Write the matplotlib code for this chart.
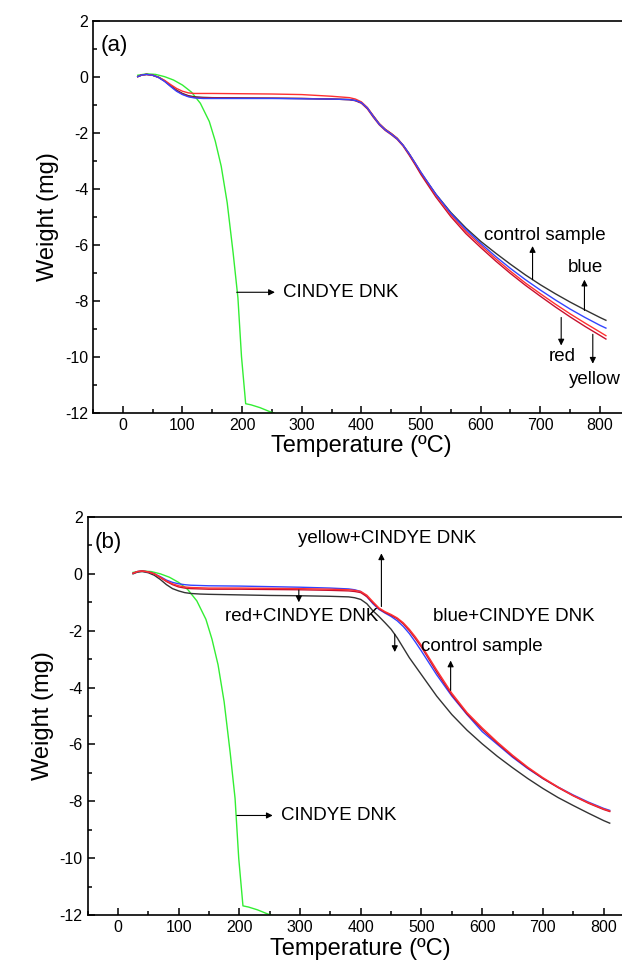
import matplotlib
matplotlib.use("Agg")
import matplotlib.pyplot as plt
from matplotlib.ticker import MultipleLocator

plt.rcParams['font.family'] = ['Liberation Sans', 'DejaVu Sans']
plt.rcParams['axes.unicode_minus'] = False

# temperature grid (deg C) shared by the sample curves
temp = [25, 32, 40, 50, 60, 70, 80, 90, 100, 110, 120, 135, 150, 200, 250, 300, 350, 380,
        390, 400, 410, 420, 430, 440, 450, 460, 470, 480, 490, 500, 525, 550, 575, 600,
        625, 650, 675, 700, 725, 750, 775, 800, 810]

# panel (a) weights (mg)
ctrl_a = [0.0, 0.06, 0.08, 0.05, -0.02, -0.15, -0.32, -0.48, -0.6, -0.68, -0.72, -0.74, -0.75,
          -0.76, -0.77, -0.78, -0.8, -0.82, -0.85, -0.93, -1.12, -1.4, -1.68, -1.88, -2.03, -2.2,
          -2.45, -2.75, -3.1, -3.45, -4.2, -4.85, -5.4, -5.88, -6.3, -6.7, -7.08, -7.43, -7.75,
          -8.05, -8.33, -8.6, -8.7]
blue_a = [0.0, 0.06, 0.08, 0.05, -0.03, -0.17, -0.35, -0.52, -0.64, -0.72, -0.76, -0.78, -0.78,
          -0.78, -0.78, -0.79, -0.8, -0.82, -0.85, -0.93, -1.12, -1.42, -1.7, -1.9, -2.05, -2.22,
          -2.45, -2.75, -3.08, -3.42, -4.2, -4.88, -5.45, -5.95, -6.42, -6.85, -7.25, -7.62, -7.97,
          -8.3, -8.6, -8.88, -8.98]
red_a = [0.0, 0.06, 0.08, 0.05, -0.02, -0.13, -0.28, -0.42, -0.52, -0.58, -0.6, -0.6, -0.6,
         -0.61, -0.62, -0.64, -0.7, -0.75, -0.8, -0.9, -1.1, -1.4, -1.68, -1.88, -2.03, -2.2,
         -2.45, -2.75, -3.08, -3.42, -4.22, -4.93, -5.52, -6.02, -6.5, -6.95, -7.37, -7.75, -8.12,
         -8.47, -8.8, -9.12, -9.25]
yellow_a = [0.0, 0.06, 0.08, 0.05, -0.03, -0.16, -0.33, -0.5, -0.62, -0.7, -0.74, -0.76, -0.76,
            -0.77, -0.77, -0.78, -0.8, -0.82, -0.86, -0.95, -1.15, -1.45, -1.72, -1.92, -2.07, -2.24,
            -2.48, -2.8, -3.14, -3.5, -4.3, -5.0, -5.6, -6.1, -6.58, -7.03, -7.45, -7.84, -8.22,
            -8.58, -8.92, -9.24, -9.37]

# panel (b) weights (mg)
ctrl_b = [0.0, 0.06, 0.08, 0.04, -0.05, -0.2, -0.38, -0.52, -0.6, -0.66, -0.69, -0.71, -0.72,
          -0.74, -0.76, -0.77, -0.79, -0.81, -0.84, -0.9, -1.05, -1.3, -1.5, -1.72, -1.95, -2.25,
          -2.6, -2.95, -3.25, -3.55, -4.3, -4.95, -5.5, -5.98, -6.42, -6.82, -7.2, -7.55, -7.87,
          -8.15, -8.42, -8.68, -8.77]
blue_b = [0.02, 0.08, 0.1, 0.07, 0.0, -0.1, -0.22, -0.3, -0.35, -0.38, -0.4, -0.41, -0.42,
          -0.43, -0.45, -0.47, -0.5, -0.53, -0.56, -0.62, -0.8, -1.05, -1.25, -1.38, -1.5, -1.65,
          -1.85, -2.1, -2.4, -2.72, -3.55, -4.3, -4.95, -5.55, -6.0, -6.45, -6.85, -7.2, -7.5,
          -7.78, -8.03, -8.25, -8.32]
red_b = [0.02, 0.08, 0.1, 0.07, 0.0, -0.12, -0.25, -0.35, -0.42, -0.46, -0.48, -0.49, -0.5,
         -0.5, -0.51, -0.52, -0.54, -0.56, -0.58, -0.62, -0.75, -0.98, -1.2, -1.33, -1.43, -1.55,
         -1.72, -1.95, -2.22, -2.52, -3.38, -4.2, -4.88, -5.42, -5.92, -6.38, -6.8, -7.17, -7.5,
         -7.8, -8.05, -8.27, -8.34]
yellow_b = [0.02, 0.08, 0.1, 0.07, 0.0, -0.13, -0.27, -0.38, -0.46, -0.5, -0.52, -0.53, -0.54,
            -0.54, -0.55, -0.56, -0.58, -0.6, -0.62, -0.66, -0.8, -1.02, -1.23, -1.36, -1.46, -1.58,
            -1.76, -2.0, -2.28, -2.58, -3.45, -4.26, -4.93, -5.47, -5.96, -6.42, -6.83, -7.2, -7.52,
            -7.81, -8.07, -8.29, -8.36]

# CINDYE DNK alone
temp_dye = [25, 40, 55, 70, 85, 100, 115, 130, 145, 155, 165, 175, 185, 193, 199, 206, 215, 230, 245, 258]
w_dye = [0.05, 0.1, 0.08, 0.0, -0.12, -0.3, -0.55, -0.95, -1.6, -2.3, -3.2, -4.5, -6.3, -7.9,
         -10.0, -11.68, -11.72, -11.82, -11.95, -12.05]

fig = plt.figure(figsize=(6.22, 9.74), dpi=100)
ax_a = fig.add_axes([0.1495, 0.5763, 0.863, 0.4025])
ax_b = fig.add_axes([0.1407, 0.0606, 0.8786, 0.4086])

arrow = dict(arrowstyle='-|>', color='black', lw=0.8, mutation_scale=9, shrinkA=0, shrinkB=0)


def style(ax, tag):
    ax.set_xlim(-50, 850)
    ax.set_ylim(-12, 2)
    ax.xaxis.set_major_locator(MultipleLocator(100))
    ax.xaxis.set_minor_locator(MultipleLocator(50))
    ax.yaxis.set_major_locator(MultipleLocator(2))
    ax.yaxis.set_minor_locator(MultipleLocator(1))
    ax.tick_params(which='both', direction='in', top=False, right=False, width=1.1, labelsize=11.5)
    ax.tick_params(which='major', length=5)
    ax.tick_params(which='minor', length=3)
    for s in ax.spines.values():
        s.set_linewidth(1.2)
    ax.set_xlabel('Temperature (ºC)', fontsize=17, labelpad=2)
    ax.set_ylabel('Weight (mg)', fontsize=17, labelpad=4)
    ax.text(-38, 1.1, tag, fontsize=16, va='center', ha='left')


def draw(ax, curves):
    ax.plot(temp_dye, w_dye, color='#33ee33', lw=1.0)
    for w, c in curves:
        ax.plot(temp, w, color=c, lw=1.0)


def label(ax, txt, pos, base, tip):
    ax.annotate('', xy=tip, xytext=base, arrowprops=arrow)
    ax.text(pos[0], pos[1], txt, fontsize=13.5, ha='center', va='center')


# panel (a)
style(ax_a, '(a)')
draw(ax_a, [(ctrl_a, '#333333'), (yellow_a, '#c8102e'), (red_a, '#ff3030'), (blue_a, '#3344ff')])
label(ax_a, 'control sample', (708, -5.66), (687, -7.25), (687, -6.05))
label(ax_a, 'blue', (776, -6.83), (774, -8.35), (774, -7.25))
label(ax_a, 'red', (737, -10.0), (735, -8.6), (735, -9.6))
label(ax_a, 'yellow', (792, -10.83), (788, -9.2), (788, -10.25))
ax_a.annotate('', xy=(255, -7.7), xytext=(191, -7.7), arrowprops=arrow)
ax_a.text(268, -7.7, 'CINDYE DNK', fontsize=13.5, ha='left', va='center')

# panel (b)
style(ax_b, '(b)')
draw(ax_b, [(ctrl_b, '#333333'), (blue_b, '#3344ff'), (yellow_b, '#c8102e'), (red_b, '#ff3030')])
label(ax_b, 'yellow+CINDYE DNK', (443, 1.25), (434, -1.15), (434, 0.72))
label(ax_b, 'red+CINDYE DNK', (302, -1.5), (298, -0.57), (298, -1.0))
label(ax_b, 'blue+CINDYE DNK', (652, -1.5), (548, -4.1), (548, -3.05))
label(ax_b, 'control sample', (600, -2.55), (456, -2.12), (456, -2.75))
ax_b.annotate('', xy=(255, -8.5), xytext=(196, -8.5), arrowprops=arrow)
ax_b.text(268, -8.5, 'CINDYE DNK', fontsize=13.5, ha='left', va='center')

fig.savefig('out.png', dpi=100)
